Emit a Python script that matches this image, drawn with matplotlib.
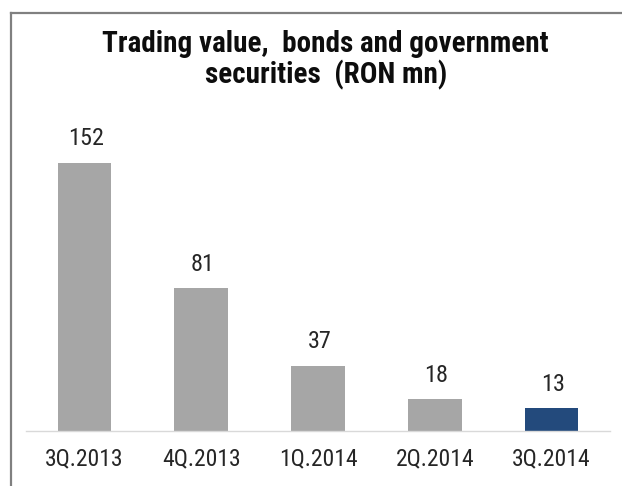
import matplotlib.pyplot as plt
from matplotlib.lines import Line2D

quarters = ['3Q.2013', '4Q.2013', '1Q.2014', '2Q.2014', '3Q.2014']
values = [152, 81, 37, 18, 13]
bar_colors = ['#a6a6a6', '#a6a6a6', '#a6a6a6', '#a6a6a6', '#234a7c']
title_lines = ['Trading value,  bonds and government', 'securities  (RON mn)']

narrow = ['Roboto Condensed', 'Archivo Narrow', 'DejaVu Sans']

W, H = 622, 486
fig = plt.figure(figsize=(W / 100, H / 100), dpi=100)

# axes placed by pixel: baseline y=431, x from 26 to 610, top y=120
ax = fig.add_axes([26 / W, (H - 431) / H, 584 / W, (431 - 120) / H])
x = list(range(len(quarters)))
ax.bar(x, values, width=0.46, color=bar_colors, zorder=2)
ax.set_xlim(-0.5, 4.5)
ax.set_ylim(0, 311 / 1.765)

for xi, v in zip(x, values):
    ax.annotate(str(v), (xi, v), xytext=(1, 12.5), textcoords='offset points',
                ha='center', va='baseline', fontsize=17.5, family=narrow, color='#262626')

ax.set_xticks(x)
ax.set_xticklabels(quarters, family=narrow, fontsize=17, color='#262626')
ax.tick_params(axis='x', length=0, pad=12)
ax.set_yticks([])
for s in ['top', 'right', 'left']:
    ax.spines[s].set_visible(False)
ax.spines['bottom'].set_color('#d9d9d9')
ax.spines['bottom'].set_linewidth(1.0)

# title, two lines
fig.text(325 / W, (H - 51.7) / H, title_lines[0], ha='center', va='baseline',
         fontsize=21, fontweight='bold', family=narrow, color='#0d0d0d')
fig.text(326 / W, (H - 83.3) / H, title_lines[1], ha='center', va='baseline',
         fontsize=21, fontweight='bold', family=narrow, color='#0d0d0d')

# chart border (top and left edges only are in view)
fig.add_artist(Line2D([10.5 / W, 1], [(H - 13.5) / H, (H - 13.5) / H], color='#808080', lw=1.6))
fig.add_artist(Line2D([10.5 / W, 10.5 / W], [0, (H - 13.5) / H], color='#808080', lw=1.6))

fig.savefig('out.png', dpi=100)
